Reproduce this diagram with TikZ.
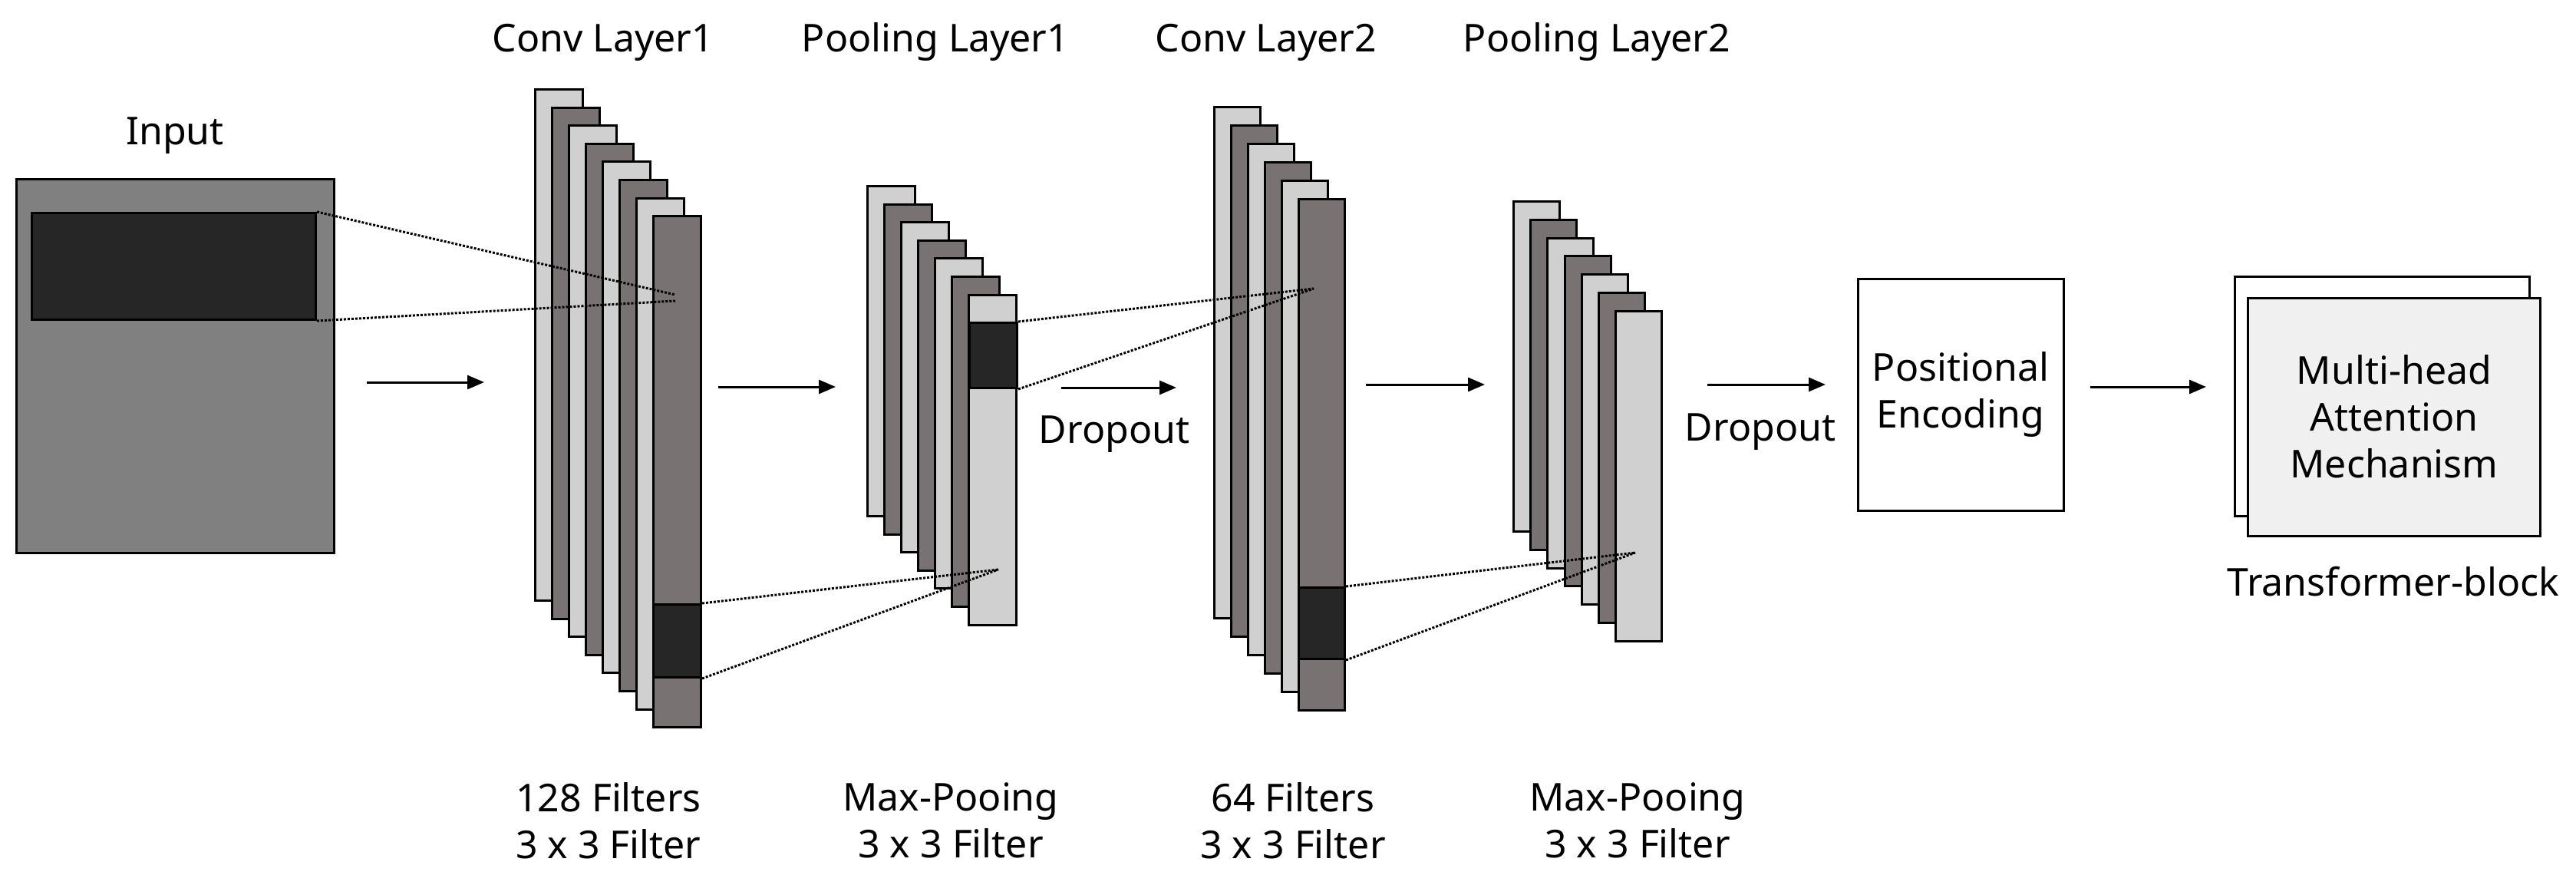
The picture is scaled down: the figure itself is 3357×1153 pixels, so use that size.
\documentclass[tikz,border=0pt]{standalone}
\usepackage{fontspec}
\setmainfont{Noto Sans}
\usetikzlibrary{arrows.meta,positioning}
\definecolor{layerLight}{HTML}{D0D0D0}
\definecolor{layerDark}{HTML}{787372}
\definecolor{patchDark}{HTML}{262626}
\definecolor{inputGray}{HTML}{808080}
\definecolor{attnFill}{HTML}{F0F0F0}
\tikzset{
    layer/.style={rectangle, draw=black, line width=3pt, anchor=north west, inner sep=0pt},
    patch/.style={rectangle, draw=black, line width=3pt, fill=patchDark, anchor=north west, inner sep=0pt},
    label/.style={font=\fontsize{50}{61}\selectfont, align=center},
    link/.style={line width=3pt, dotted},
    arrow/.style={-{Triangle[length=22pt, width=18pt]}, line width=3pt}
}
\begin{document}
\begin{tikzpicture}[x=1pt, y=-1pt]
\useasboundingbox (0,0) rectangle (3357,1153);

% ====== INPUT ======
\node[layer, fill=inputGray, minimum width=414pt, minimum height=487pt] (input) at (20,232) {};
\node[patch, minimum width=370pt, minimum height=139pt] (in_patch) at (40,276) {};
\node[label] (lbl_input) at (228,177) {Input};

% ====== CONV LAYER 1 ======
\foreach \i in {0,...,7} {
    \pgfmathsetmacro{\shade}{ifthenelse(mod(\i,2)==0,"layerLight","layerDark")}
    \node[layer, fill=\shade, minimum width=62pt, minimum height=666pt] (conv1_\i) at (696+22*\i, 115+23.6*\i) {};
}
\node[patch, minimum width=62pt, minimum height=95pt] (c1_patch) at (850,786) {};
\node[label] (lbl_conv1) at (786,55) {Conv Layer1};
\node[label] (txt_conv1) at (793,1069) {128 Filters\\3 x 3 Filter};

% ====== POOLING LAYER 1 ======
\foreach \i in {0,...,6} {
    \pgfmathsetmacro{\shade}{ifthenelse(mod(\i,2)==0,"layerLight","layerDark")}
    \node[layer, fill=\shade, minimum width=62pt, minimum height=430pt] (pool1_\i) at (1129+22*\i, 241+23.6*\i) {};
}
\node[patch, minimum width=62pt, minimum height=85pt] (p1_patch) at (1262,419) {};
\node[label] (lbl_pool1) at (1219,55) {Pooling Layer1};
\node[label] (txt_pool1) at (1239,1069) {Max-Pooing\\3 x 3 Filter};

% ====== CONV LAYER 2 ======
\foreach \i in {0,...,5} {
    \pgfmathsetmacro{\shade}{ifthenelse(mod(\i,2)==0,"layerLight","layerDark")}
    \node[layer, fill=\shade, minimum width=60pt, minimum height=666pt] (conv2_\i) at (1581+22*\i, 138+23.9*\i) {};
}
\node[patch, minimum width=60pt, minimum height=93pt] (c2_patch) at (1691,764) {};
\node[label] (lbl_conv2) at (1650,55) {Conv Layer2};
\node[label] (txt_conv2) at (1685,1069) {64 Filters\\3 x 3 Filter};

% ====== POOLING LAYER 2 ======
\foreach \i in {0,...,6} {
    \pgfmathsetmacro{\shade}{ifthenelse(mod(\i,2)==0,"layerLight","layerDark")}
    \node[layer, fill=\shade, minimum width=60pt, minimum height=430pt] (pool2_\i) at (1971+22.2*\i, 261+23.8*\i) {};
}
\node[label] (lbl_pool2) at (2081,55) {Pooling Layer2};
\node[label] (txt_pool2) at (2134,1069) {Max-Pooing\\3 x 3 Filter};

% ====== ENCODING & TRANSFORMER ======
\node[layer, fill=white, minimum width=268pt, minimum height=302pt, label, anchor=center] (pos_enc) at (2555,514) {Positional\\Encoding};
\node[layer, fill=white, minimum width=384pt, minimum height=312pt] (attn_back) at (2911,359) {};
\node[layer, fill=attnFill, minimum width=381pt, minimum height=310pt, label, anchor=center] (attn) at (3120,543) {Multi-head\\Attention\\Mechanism};
\node[label] (lbl_trans) at (3119,758) {Transformer-block};

\node[label] (drop1) at (1452,566) {Dropout};
\node[label] (drop2) at (2294,563) {Dropout};

% --- dotted links ---
\coordinate (t1a) at (880,384);
\coordinate (t1b) at (880,392);
\coordinate (t2) at (1301,742);
\coordinate (t3) at (1712,376);
\coordinate (t4) at (2131,720);
\draw[link] (in_patch.north east) -- (t1a);
\draw[link] (in_patch.south east) -- (t1b);
\draw[link] (c1_patch.north east) -- (t2);
\draw[link] (c1_patch.south east) -- (t2);
\draw[link] (p1_patch.north east) -- (t3);
\draw[link] (p1_patch.south east) -- (t3);
\draw[link] (c2_patch.north east) -- (t4);
\draw[link] (c2_patch.south east) -- (t4);

% --- arrows ---
\coordinate (a1s) at (478,498);  \coordinate (a1e) at (631,498);
\coordinate (a2s) at (936,504);  \coordinate (a2e) at (1089,504);
\coordinate (a3s) at (1383,505); \coordinate (a3e) at (1533,505);
\coordinate (a4s) at (1780,501); \coordinate (a4e) at (1935,501);
\coordinate (a5s) at (2225,501); \coordinate (a5e) at (2379,501);
\draw[arrow] (a1s) -- (a1e);
\draw[arrow] (a2s) -- (a2e);
\draw[arrow] (a3s) -- (a3e);
\draw[arrow] (a4s) -- (a4e);
\draw[arrow] (a5s) -- (a5e);
\draw[arrow] (pos_enc.east) ++(33,-10) coordinate (a6s) -- (2875,504) coordinate (a6e);
\end{tikzpicture}
\end{document}
